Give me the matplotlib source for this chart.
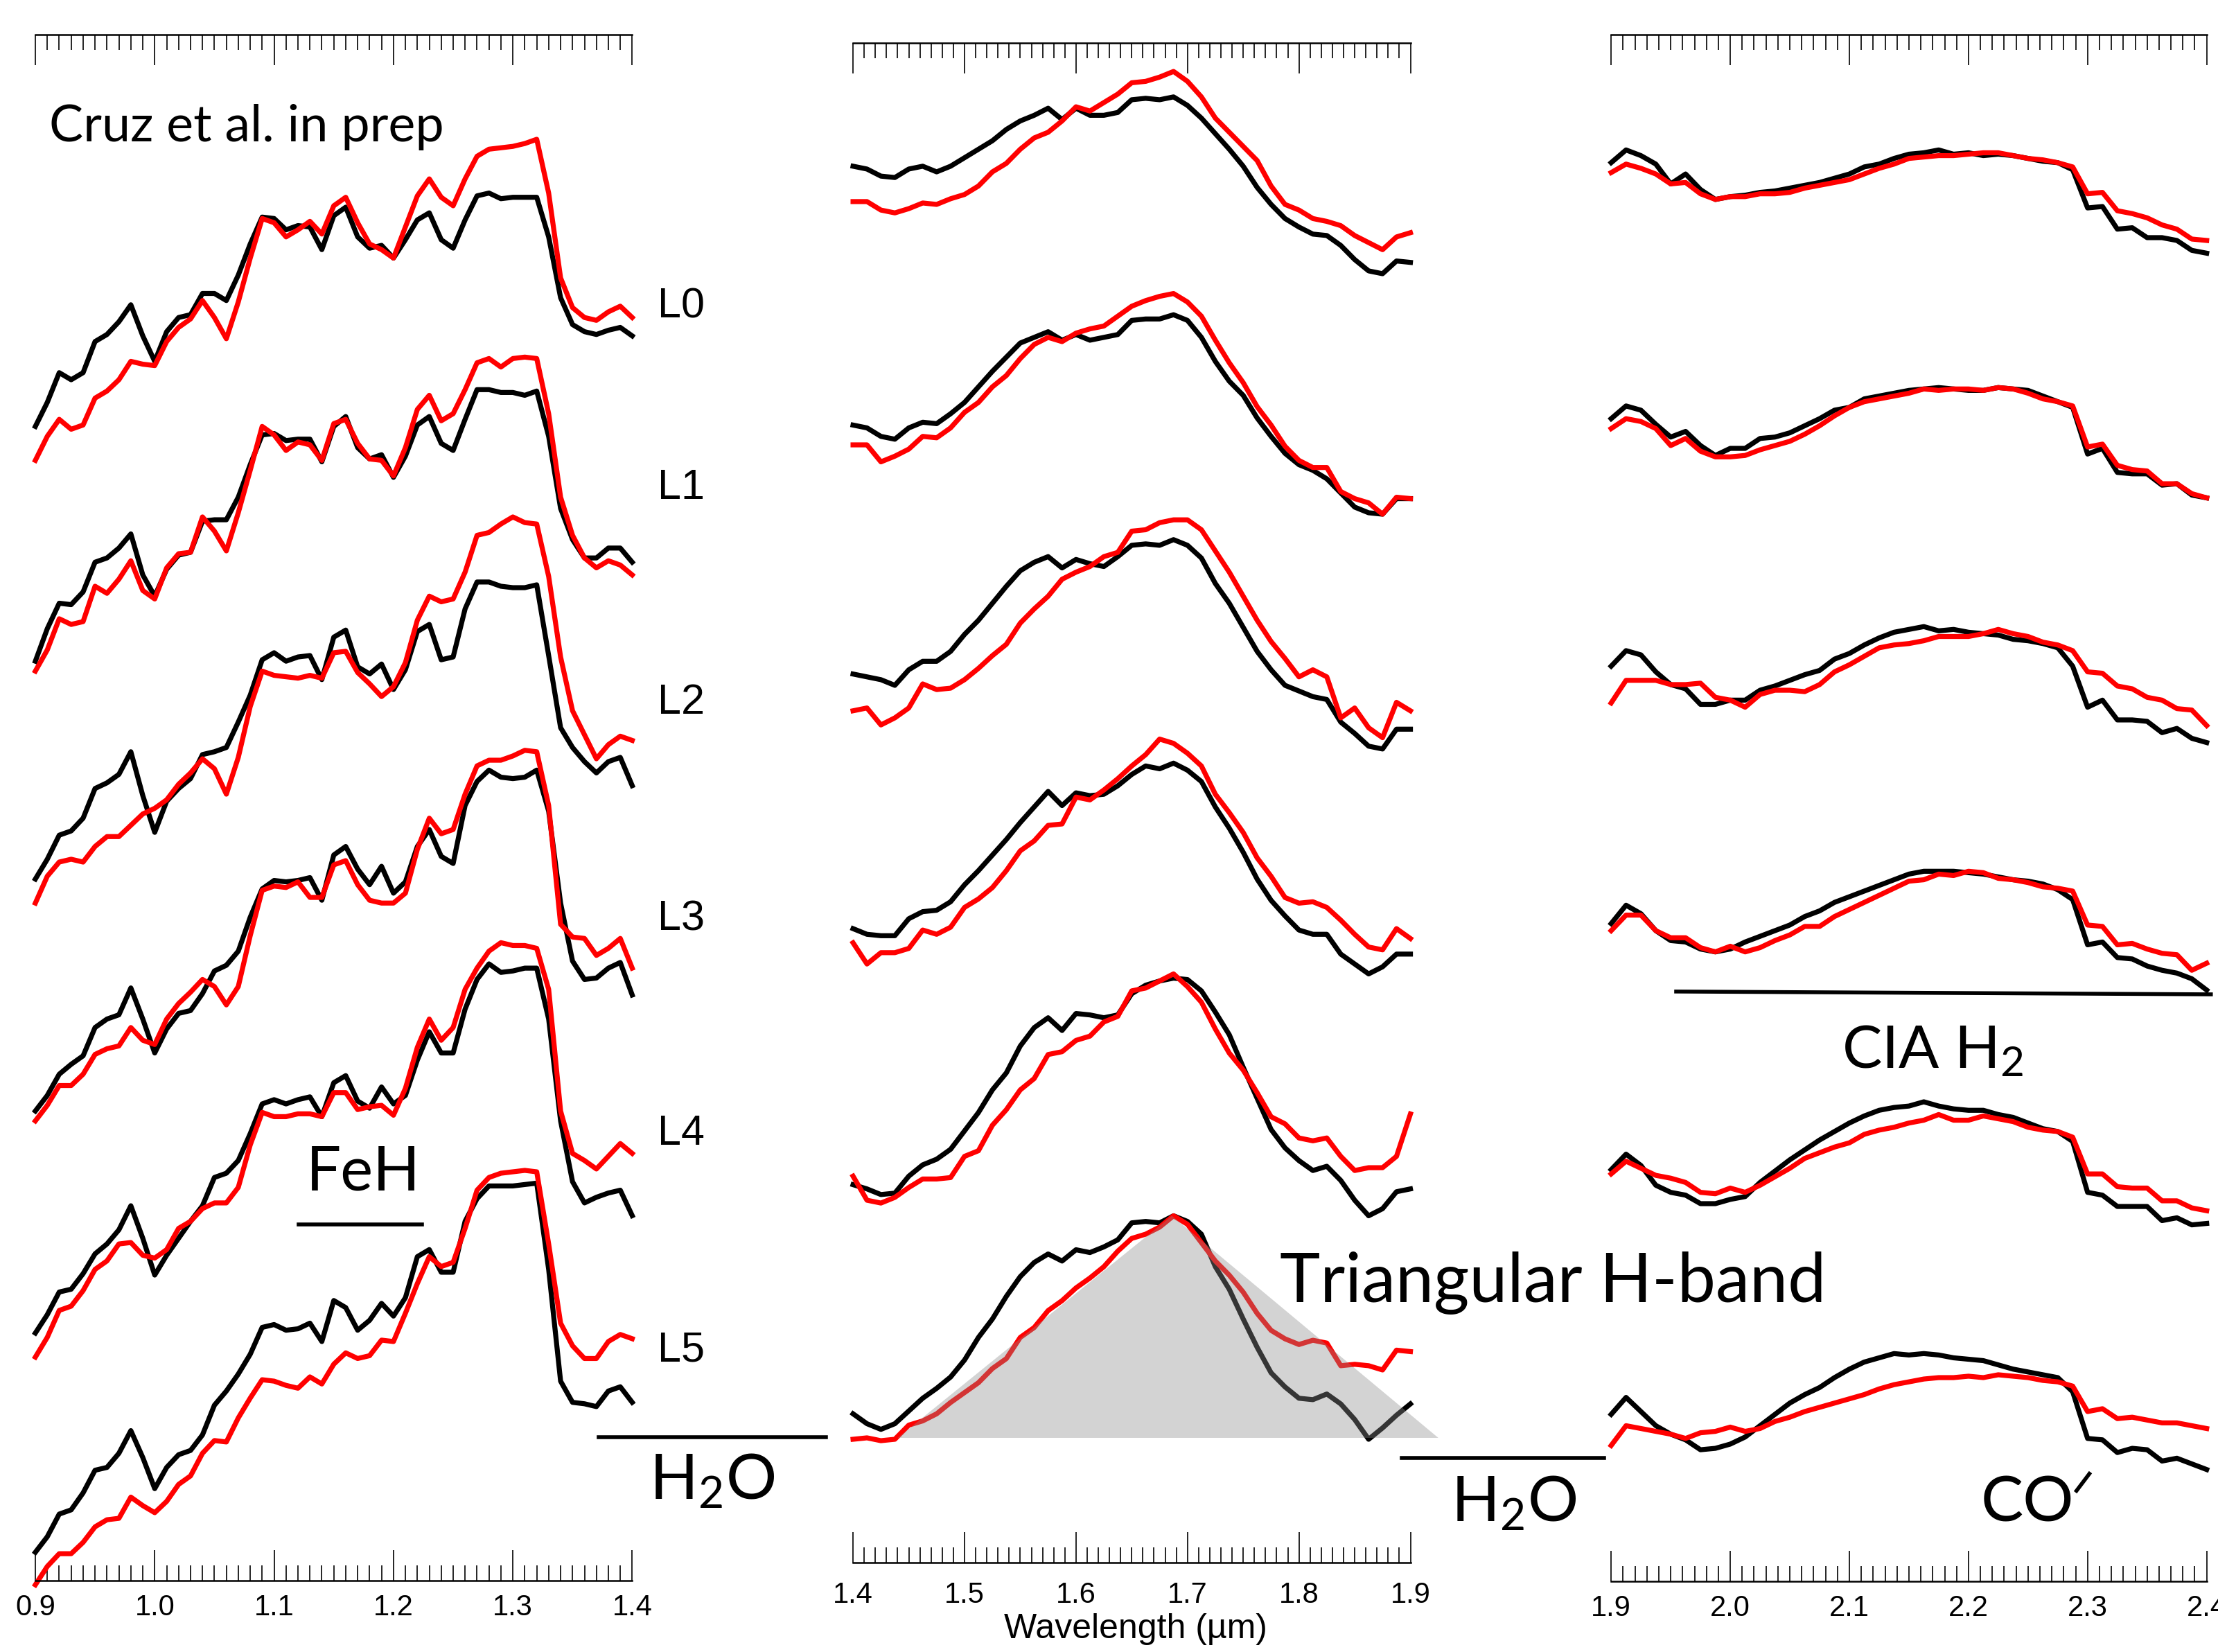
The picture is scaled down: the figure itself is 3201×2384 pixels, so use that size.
import numpy as np
import matplotlib
matplotlib.use("Agg")
from matplotlib import pyplot as plt
from matplotlib.lines import Line2D
from matplotlib.ticker import MultipleLocator, FormatStrFormatter

plt.rcParams['font.family'] = ['Liberation Sans', 'DejaVu Sans']
plt.rcParams['mathtext.fontset'] = 'custom'
plt.rcParams['mathtext.rm'] = 'Lato'
plt.rcParams['mathtext.it'] = 'Lato:italic'

# spectral types, top to bottom
types = ['L0', 'L1', 'L2', 'L3', 'L4', 'L5']

# wavelength sampling of each band (micron)
j_range = (0.90, 1.40, 0.01)
h_range = (1.40, 1.90, 0.0125)
k_range = (1.90, 2.40, 0.0125)

# vertical offsets of each spectrum in its panel (flux units)
j_off = [7.93, 6.38, 4.78, 3.23, 1.68, 0.0]
h_off = [9.05, 7.35, 5.85, 4.15, 2.45, 0.80]
k_off = [9.33, 7.58, 5.88, 4.18, 2.48, 0.73]

# ---- J band (0.90 - 1.40) ----
j_black_L0 = [0.23, 0.40, 0.61, 0.56, 0.61, 0.83, 0.88, 0.97, 1.09, 0.87, 0.69, 0.90, 1.00, 1.02, 1.17, 1.17, 1.12, 1.30, 1.52, 1.71, 1.70, 1.62, 1.65, 1.64, 1.48, 1.72, 1.78, 1.57, 1.49, 1.51, 1.42, 1.55, 1.69, 1.74, 1.55, 1.49, 1.69, 1.86, 1.88, 1.84, 1.85, 1.85, 1.85, 1.57, 1.14, 0.95, 0.90, 0.88, 0.91, 0.93, 0.87]
j_red_L0 = [-0.01, 0.16, 0.28, 0.21, 0.24, 0.43, 0.48, 0.56, 0.69, 0.67, 0.66, 0.83, 0.93, 0.99, 1.12, 1.00, 0.85, 1.11, 1.42, 1.70, 1.67, 1.57, 1.62, 1.68, 1.59, 1.79, 1.85, 1.67, 1.52, 1.48, 1.42, 1.64, 1.86, 1.98, 1.85, 1.79, 1.98, 2.14, 2.19, 2.20, 2.21, 2.23, 2.26, 1.88, 1.28, 1.07, 1.00, 0.98, 1.04, 1.08, 1.00]
j_black_L1 = [0.12, 0.35, 0.53, 0.52, 0.61, 0.82, 0.85, 0.92, 1.02, 0.73, 0.58, 0.77, 0.87, 0.89, 1.11, 1.12, 1.12, 1.28, 1.51, 1.72, 1.73, 1.68, 1.69, 1.69, 1.53, 1.78, 1.85, 1.63, 1.55, 1.58, 1.42, 1.57, 1.79, 1.85, 1.66, 1.61, 1.83, 2.04, 2.04, 2.02, 2.02, 2.00, 2.03, 1.71, 1.20, 0.98, 0.85, 0.85, 0.92, 0.92, 0.82]
j_red_L1 = [0.05, 0.20, 0.42, 0.38, 0.40, 0.65, 0.60, 0.70, 0.83, 0.62, 0.56, 0.78, 0.88, 0.89, 1.14, 1.04, 0.90, 1.17, 1.47, 1.78, 1.72, 1.61, 1.67, 1.65, 1.54, 1.80, 1.83, 1.66, 1.55, 1.54, 1.43, 1.63, 1.90, 2.00, 1.82, 1.87, 2.04, 2.23, 2.26, 2.20, 2.26, 2.27, 2.26, 1.87, 1.28, 1.01, 0.85, 0.78, 0.83, 0.80, 0.73]
j_black_L2 = [0.18, 0.32, 0.49, 0.52, 0.61, 0.82, 0.86, 0.92, 1.08, 0.77, 0.51, 0.73, 0.82, 0.89, 1.06, 1.08, 1.11, 1.29, 1.48, 1.73, 1.78, 1.72, 1.75, 1.76, 1.59, 1.89, 1.94, 1.68, 1.63, 1.70, 1.52, 1.66, 1.93, 1.98, 1.73, 1.75, 2.09, 2.28, 2.28, 2.25, 2.24, 2.24, 2.26, 1.76, 1.25, 1.11, 1.01, 0.93, 1.01, 1.04, 0.84]
j_red_L2 = [0.01, 0.20, 0.30, 0.32, 0.30, 0.41, 0.48, 0.48, 0.56, 0.64, 0.68, 0.74, 0.85, 0.93, 1.03, 0.96, 0.78, 1.04, 1.40, 1.65, 1.62, 1.61, 1.60, 1.62, 1.60, 1.78, 1.79, 1.64, 1.56, 1.47, 1.54, 1.71, 2.01, 2.18, 2.14, 2.16, 2.35, 2.61, 2.63, 2.69, 2.74, 2.70, 2.69, 2.32, 1.75, 1.37, 1.20, 1.03, 1.13, 1.19, 1.16]
j_black_L3 = [0.09, 0.20, 0.35, 0.42, 0.48, 0.68, 0.74, 0.77, 0.96, 0.74, 0.50, 0.67, 0.78, 0.80, 0.92, 1.08, 1.12, 1.22, 1.46, 1.66, 1.72, 1.71, 1.72, 1.74, 1.58, 1.90, 1.96, 1.80, 1.69, 1.82, 1.63, 1.71, 1.96, 2.08, 1.89, 1.84, 2.25, 2.42, 2.50, 2.45, 2.44, 2.45, 2.50, 2.21, 1.56, 1.15, 1.02, 1.03, 1.10, 1.14, 0.91]
j_red_L3 = [0.02, 0.13, 0.27, 0.27, 0.35, 0.49, 0.53, 0.55, 0.68, 0.59, 0.56, 0.74, 0.85, 0.93, 1.02, 0.97, 0.84, 0.97, 1.33, 1.65, 1.68, 1.67, 1.71, 1.60, 1.60, 1.83, 1.86, 1.69, 1.58, 1.56, 1.56, 1.63, 1.94, 2.16, 2.05, 2.08, 2.33, 2.53, 2.57, 2.57, 2.60, 2.64, 2.63, 2.25, 1.41, 1.32, 1.31, 1.19, 1.24, 1.31, 1.10]
j_black_L4 = [0.07, 0.20, 0.36, 0.38, 0.49, 0.63, 0.70, 0.80, 0.97, 0.74, 0.48, 0.62, 0.74, 0.86, 0.97, 1.17, 1.20, 1.29, 1.48, 1.69, 1.72, 1.69, 1.72, 1.74, 1.60, 1.84, 1.89, 1.71, 1.66, 1.81, 1.69, 1.75, 2.00, 2.20, 2.05, 2.05, 2.36, 2.57, 2.68, 2.62, 2.63, 2.65, 2.65, 2.29, 1.57, 1.14, 0.99, 1.03, 1.06, 1.08, 0.90]
j_red_L4 = [-0.10, 0.04, 0.23, 0.26, 0.37, 0.52, 0.58, 0.70, 0.71, 0.62, 0.60, 0.66, 0.81, 0.86, 0.95, 0.99, 0.99, 1.10, 1.40, 1.63, 1.60, 1.60, 1.62, 1.62, 1.60, 1.77, 1.77, 1.65, 1.67, 1.68, 1.61, 1.80, 2.09, 2.29, 2.14, 2.23, 2.50, 2.65, 2.77, 2.83, 2.81, 2.81, 2.79, 2.50, 1.64, 1.34, 1.29, 1.23, 1.32, 1.41, 1.34]
j_black_L5 = [0.20, 0.31, 0.47, 0.50, 0.62, 0.78, 0.80, 0.90, 1.06, 0.87, 0.65, 0.80, 0.89, 0.92, 1.03, 1.24, 1.34, 1.46, 1.60, 1.79, 1.81, 1.77, 1.78, 1.82, 1.69, 1.98, 1.93, 1.77, 1.84, 1.96, 1.87, 2.00, 2.29, 2.34, 2.18, 2.18, 2.54, 2.70, 2.79, 2.79, 2.79, 2.80, 2.81, 2.20, 1.41, 1.26, 1.25, 1.23, 1.34, 1.37, 1.26]
j_red_L5 = [-0.03, 0.10, 0.19, 0.19, 0.27, 0.38, 0.43, 0.44, 0.59, 0.53, 0.48, 0.56, 0.68, 0.74, 0.90, 0.99, 0.98, 1.15, 1.29, 1.42, 1.41, 1.38, 1.36, 1.44, 1.39, 1.53, 1.61, 1.57, 1.59, 1.70, 1.69, 1.89, 2.10, 2.29, 2.22, 2.25, 2.49, 2.76, 2.85, 2.88, 2.89, 2.90, 2.89, 2.38, 1.82, 1.66, 1.57, 1.57, 1.69, 1.74, 1.71]

# ---- H band (1.40 - 1.90) ----
h_black_L0 = [0.82, 0.80, 0.75, 0.74, 0.80, 0.82, 0.78, 0.82, 0.88, 0.94, 1.00, 1.08, 1.14, 1.18, 1.23, 1.15, 1.23, 1.18, 1.18, 1.20, 1.29, 1.30, 1.29, 1.31, 1.25, 1.16, 1.05, 0.94, 0.82, 0.67, 0.55, 0.45, 0.39, 0.34, 0.33, 0.26, 0.16, 0.08, 0.06, 0.15, 0.14]
h_red_L0 = [0.57, 0.57, 0.51, 0.49, 0.52, 0.56, 0.55, 0.59, 0.62, 0.68, 0.78, 0.84, 0.94, 1.02, 1.06, 1.14, 1.24, 1.21, 1.27, 1.33, 1.41, 1.42, 1.45, 1.49, 1.42, 1.31, 1.16, 1.06, 0.96, 0.86, 0.68, 0.55, 0.51, 0.45, 0.43, 0.40, 0.33, 0.28, 0.23, 0.32, 0.35]
h_black_L1 = [0.69, 0.67, 0.61, 0.59, 0.67, 0.71, 0.70, 0.77, 0.85, 0.96, 1.07, 1.17, 1.27, 1.31, 1.35, 1.29, 1.33, 1.29, 1.31, 1.33, 1.43, 1.44, 1.44, 1.47, 1.43, 1.31, 1.14, 1.00, 0.90, 0.74, 0.61, 0.49, 0.41, 0.37, 0.31, 0.21, 0.11, 0.07, 0.06, 0.17, 0.17]
h_red_L1 = [0.55, 0.55, 0.43, 0.47, 0.52, 0.61, 0.60, 0.67, 0.78, 0.85, 0.96, 1.04, 1.16, 1.26, 1.31, 1.28, 1.34, 1.37, 1.39, 1.46, 1.53, 1.57, 1.60, 1.62, 1.56, 1.46, 1.29, 1.13, 0.99, 0.82, 0.69, 0.54, 0.44, 0.39, 0.39, 0.22, 0.17, 0.14, 0.06, 0.18, 0.17]
h_black_L2 = [0.43, 0.41, 0.39, 0.35, 0.46, 0.52, 0.52, 0.59, 0.71, 0.81, 0.93, 1.05, 1.16, 1.22, 1.26, 1.18, 1.24, 1.21, 1.19, 1.26, 1.34, 1.35, 1.34, 1.38, 1.34, 1.25, 1.07, 0.93, 0.76, 0.59, 0.46, 0.35, 0.31, 0.27, 0.25, 0.09, 0.01, -0.08, -0.10, 0.04, 0.04]
h_red_L2 = [0.17, 0.19, 0.07, 0.12, 0.19, 0.36, 0.32, 0.33, 0.39, 0.47, 0.56, 0.64, 0.79, 0.89, 0.98, 1.10, 1.15, 1.19, 1.26, 1.29, 1.44, 1.45, 1.50, 1.52, 1.52, 1.45, 1.30, 1.15, 0.98, 0.81, 0.66, 0.54, 0.41, 0.46, 0.41, 0.12, 0.19, 0.05, -0.02, 0.23, 0.17]
h_black_L3 = [0.33, 0.29, 0.28, 0.28, 0.40, 0.45, 0.46, 0.52, 0.64, 0.74, 0.85, 0.96, 1.08, 1.19, 1.30, 1.20, 1.29, 1.27, 1.28, 1.34, 1.42, 1.48, 1.46, 1.50, 1.45, 1.37, 1.19, 1.04, 0.87, 0.68, 0.53, 0.42, 0.32, 0.29, 0.29, 0.15, 0.08, 0.01, 0.06, 0.15, 0.15]
h_red_L3 = [0.23, 0.08, 0.16, 0.16, 0.19, 0.32, 0.29, 0.34, 0.48, 0.54, 0.62, 0.74, 0.88, 0.95, 1.06, 1.07, 1.26, 1.24, 1.31, 1.39, 1.48, 1.56, 1.67, 1.64, 1.57, 1.48, 1.28, 1.15, 1.01, 0.83, 0.70, 0.55, 0.51, 0.52, 0.48, 0.39, 0.29, 0.20, 0.18, 0.33, 0.26]
h_black_L4 = [0.22, 0.19, 0.15, 0.16, 0.28, 0.36, 0.40, 0.47, 0.60, 0.73, 0.89, 1.01, 1.20, 1.33, 1.40, 1.31, 1.43, 1.42, 1.40, 1.42, 1.57, 1.63, 1.66, 1.68, 1.67, 1.59, 1.44, 1.28, 1.05, 0.83, 0.61, 0.48, 0.39, 0.32, 0.35, 0.25, 0.11, 0.00, 0.05, 0.17, 0.19]
h_red_L4 = [0.28, 0.11, 0.09, 0.13, 0.20, 0.26, 0.26, 0.27, 0.42, 0.46, 0.64, 0.75, 0.89, 0.97, 1.14, 1.16, 1.24, 1.27, 1.37, 1.41, 1.59, 1.61, 1.66, 1.71, 1.62, 1.51, 1.32, 1.15, 1.03, 0.87, 0.70, 0.65, 0.55, 0.53, 0.55, 0.42, 0.32, 0.34, 0.34, 0.42, 0.72]
h_black_L5 = [0.25, 0.18, 0.14, 0.18, 0.27, 0.36, 0.43, 0.51, 0.63, 0.79, 0.92, 1.08, 1.22, 1.32, 1.38, 1.33, 1.41, 1.39, 1.43, 1.48, 1.60, 1.61, 1.60, 1.65, 1.61, 1.52, 1.29, 1.13, 0.92, 0.72, 0.54, 0.44, 0.36, 0.35, 0.39, 0.32, 0.21, 0.07, 0.15, 0.24, 0.32]
h_red_L5 = [0.07, 0.08, 0.06, 0.07, 0.17, 0.20, 0.25, 0.33, 0.40, 0.47, 0.57, 0.64, 0.79, 0.86, 0.98, 1.05, 1.14, 1.21, 1.29, 1.40, 1.49, 1.52, 1.57, 1.65, 1.59, 1.46, 1.33, 1.23, 1.11, 0.96, 0.84, 0.78, 0.74, 0.77, 0.75, 0.59, 0.60, 0.59, 0.56, 0.70, 0.69]

# ---- K band (1.90 - 2.40) ----
k_black_L0 = [0.70, 0.79, 0.75, 0.69, 0.55, 0.62, 0.51, 0.44, 0.46, 0.47, 0.49, 0.50, 0.52, 0.54, 0.56, 0.59, 0.62, 0.67, 0.69, 0.73, 0.76, 0.77, 0.79, 0.76, 0.77, 0.75, 0.76, 0.75, 0.73, 0.71, 0.70, 0.65, 0.38, 0.39, 0.23, 0.24, 0.17, 0.17, 0.15, 0.08, 0.06]
k_red_L0 = [0.63, 0.69, 0.66, 0.62, 0.55, 0.56, 0.48, 0.44, 0.46, 0.46, 0.48, 0.48, 0.49, 0.52, 0.54, 0.56, 0.58, 0.62, 0.66, 0.69, 0.73, 0.74, 0.75, 0.75, 0.76, 0.77, 0.77, 0.75, 0.73, 0.72, 0.70, 0.67, 0.48, 0.49, 0.36, 0.34, 0.31, 0.26, 0.23, 0.16, 0.15]
k_black_L1 = [0.64, 0.73, 0.70, 0.60, 0.51, 0.55, 0.45, 0.38, 0.43, 0.43, 0.50, 0.51, 0.54, 0.59, 0.64, 0.70, 0.72, 0.78, 0.80, 0.82, 0.84, 0.85, 0.86, 0.85, 0.84, 0.84, 0.86, 0.85, 0.84, 0.80, 0.76, 0.72, 0.39, 0.43, 0.26, 0.25, 0.25, 0.17, 0.18, 0.10, 0.08]
k_red_L1 = [0.57, 0.64, 0.62, 0.57, 0.45, 0.50, 0.41, 0.37, 0.37, 0.38, 0.42, 0.45, 0.48, 0.53, 0.59, 0.66, 0.72, 0.76, 0.78, 0.80, 0.82, 0.85, 0.84, 0.85, 0.85, 0.84, 0.86, 0.85, 0.82, 0.78, 0.76, 0.73, 0.44, 0.46, 0.31, 0.28, 0.27, 0.18, 0.18, 0.11, 0.08]
k_black_L2 = [0.59, 0.70, 0.67, 0.55, 0.46, 0.43, 0.32, 0.32, 0.35, 0.35, 0.42, 0.45, 0.49, 0.53, 0.56, 0.64, 0.68, 0.74, 0.79, 0.83, 0.85, 0.87, 0.84, 0.85, 0.83, 0.82, 0.81, 0.78, 0.77, 0.75, 0.72, 0.59, 0.30, 0.35, 0.21, 0.21, 0.20, 0.12, 0.15, 0.08, 0.05]
k_red_L2 = [0.33, 0.49, 0.49, 0.49, 0.46, 0.46, 0.47, 0.37, 0.35, 0.30, 0.39, 0.42, 0.42, 0.41, 0.46, 0.55, 0.60, 0.66, 0.72, 0.74, 0.75, 0.77, 0.80, 0.80, 0.80, 0.82, 0.85, 0.82, 0.80, 0.76, 0.74, 0.70, 0.55, 0.54, 0.45, 0.43, 0.37, 0.35, 0.29, 0.28, 0.17]
k_black_L3 = [0.47, 0.60, 0.54, 0.42, 0.35, 0.34, 0.29, 0.27, 0.29, 0.34, 0.38, 0.42, 0.46, 0.52, 0.56, 0.62, 0.66, 0.70, 0.74, 0.78, 0.82, 0.84, 0.84, 0.84, 0.83, 0.82, 0.80, 0.78, 0.77, 0.75, 0.71, 0.64, 0.32, 0.34, 0.23, 0.22, 0.17, 0.14, 0.12, 0.08, 0.00]
k_red_L3 = [0.42, 0.53, 0.53, 0.42, 0.37, 0.37, 0.30, 0.27, 0.31, 0.27, 0.30, 0.35, 0.39, 0.45, 0.45, 0.52, 0.57, 0.62, 0.67, 0.72, 0.77, 0.78, 0.82, 0.81, 0.84, 0.83, 0.79, 0.78, 0.76, 0.73, 0.72, 0.70, 0.46, 0.45, 0.32, 0.33, 0.29, 0.26, 0.25, 0.14, 0.19]
k_black_L4 = [0.43, 0.54, 0.46, 0.32, 0.27, 0.25, 0.19, 0.19, 0.22, 0.24, 0.34, 0.42, 0.50, 0.57, 0.64, 0.70, 0.76, 0.81, 0.85, 0.87, 0.88, 0.91, 0.88, 0.86, 0.85, 0.85, 0.82, 0.80, 0.76, 0.72, 0.70, 0.63, 0.27, 0.25, 0.17, 0.17, 0.17, 0.07, 0.09, 0.04, 0.05]
k_red_L4 = [0.40, 0.49, 0.44, 0.39, 0.37, 0.34, 0.27, 0.26, 0.30, 0.27, 0.32, 0.38, 0.44, 0.51, 0.55, 0.59, 0.62, 0.68, 0.71, 0.73, 0.76, 0.78, 0.82, 0.78, 0.78, 0.81, 0.79, 0.77, 0.73, 0.71, 0.70, 0.66, 0.40, 0.40, 0.31, 0.30, 0.30, 0.21, 0.21, 0.16, 0.14]
k_black_L5 = [0.45, 0.57, 0.47, 0.37, 0.31, 0.27, 0.20, 0.21, 0.24, 0.29, 0.37, 0.45, 0.53, 0.59, 0.64, 0.71, 0.77, 0.82, 0.85, 0.88, 0.87, 0.88, 0.87, 0.85, 0.84, 0.83, 0.80, 0.77, 0.75, 0.73, 0.71, 0.61, 0.28, 0.27, 0.18, 0.21, 0.20, 0.12, 0.14, 0.10, 0.06]
k_red_L5 = [0.23, 0.37, 0.35, 0.33, 0.31, 0.28, 0.32, 0.33, 0.36, 0.33, 0.35, 0.40, 0.43, 0.47, 0.50, 0.53, 0.56, 0.59, 0.63, 0.66, 0.68, 0.70, 0.71, 0.71, 0.72, 0.71, 0.73, 0.72, 0.71, 0.69, 0.68, 0.65, 0.47, 0.49, 0.42, 0.43, 0.41, 0.39, 0.39, 0.37, 0.35]

# triangular H-band template drawn under the L5 spectra
tri_wave = [1.44, 1.686, 1.925]
tri_flux = [0.08, 1.65, 0.08]

j_black = [j_black_L0, j_black_L1, j_black_L2, j_black_L3, j_black_L4, j_black_L5]
j_red = [j_red_L0, j_red_L1, j_red_L2, j_red_L3, j_red_L4, j_red_L5]
h_black = [h_black_L0, h_black_L1, h_black_L2, h_black_L3, h_black_L4, h_black_L5]
h_red = [h_red_L0, h_red_L1, h_red_L2, h_red_L3, h_red_L4, h_red_L5]
k_black = [k_black_L0, k_black_L1, k_black_L2, k_black_L3, k_black_L4, k_black_L5]
k_red = [k_red_L0, k_red_L1, k_red_L2, k_red_L3, k_red_L4, k_red_L5]


def band_grid(rng):
    lo, hi, step = rng
    n = int(round((hi - lo) / step)) + 1
    return lo + step * np.arange(n)


def setup_axis(ax, rng, ytop, labelpad):
    ax.set_xlim(rng[0], rng[1])
    ax.set_ylim(0, ytop)
    for side in ['left', 'right']:
        ax.spines[side].set_visible(False)
    for side in ['top', 'bottom']:
        ax.spines[side].set_linewidth(0.9)
    ax.set_yticks([])
    ax.xaxis.set_major_locator(MultipleLocator(0.1))
    ax.xaxis.set_minor_locator(MultipleLocator(0.01))
    ax.xaxis.set_major_formatter(FormatStrFormatter('%.1f'))
    ax.tick_params(axis='x', which='both', direction='in', top=True, bottom=True,
                   labeltop=False, labelbottom=True, width=0.6, labelsize=15,
                   pad=labelpad)
    ax.tick_params(axis='x', which='major', length=15.8)
    ax.tick_params(axis='x', which='minor', length=7.9)
    ax.patch.set_alpha(0)


def plot_band(ax, rng, black, red, offsets):
    wave = band_grid(rng)
    for i in range(len(types)):
        ax.plot(wave, np.array(black[i]) + offsets[i], color='black', lw=2.6,
                solid_joinstyle='round', clip_on=False, zorder=2)
        ax.plot(wave, np.array(red[i]) + offsets[i], color='#ff0000', lw=2.6,
                solid_joinstyle='round', clip_on=False, zorder=2)


fig = plt.figure(figsize=(3201 / 200, 2384 / 200), dpi=200)

ax_j = fig.add_axes([0.01594, 0.04324, 0.2691, 0.9358])
ax_h = fig.add_axes([0.3846, 0.05428, 0.2513, 0.9196])
ax_k = fig.add_axes([0.7264, 0.04281, 0.2685, 0.9362])

setup_axis(ax_j, j_range, 10.93, 7)
setup_axis(ax_h, h_range, 10.74, 10)
setup_axis(ax_k, k_range, 10.935, 7)

plot_band(ax_j, j_range, j_black, j_red, j_off)
plot_band(ax_h, h_range, h_black, h_red, h_off)
plot_band(ax_k, k_range, k_black, k_red, k_off)

ax_h.fill(tri_wave, np.array(tri_flux) + h_off[5], color='0.55', alpha=0.38,
          lw=0, zorder=3, clip_on=False)

fig.text(0.5121, 0.0137, 'Wavelength (\u00b5m)', fontsize=18, ha='center', va='center')

# spectral type labels
label_y = [0.8142, 0.7046, 0.5745, 0.4435, 0.3134, 0.1824]
for t, yy in zip(types, label_y):
    fig.text(0.2966, yy, t, fontsize=22, ha='left', va='center')

ann = dict(family=['Lato', 'DejaVu Sans'], color='black')
fig.text(0.0223, 0.9229, 'Cruz et al. in prep', fontsize=26.5, ha='left', va='center', **ann)
fig.text(0.1639, 0.2902, 'FeH', fontsize=32, ha='center', va='center', **ann)
fig.text(0.3211, 0.1036, 'H$_2$O', fontsize=33, ha='center', va='center', **ann)
fig.text(0.6824, 0.0899, 'H$_2$O', fontsize=33, ha='center', va='center', **ann)
fig.text(0.7003, 0.2235, 'Triangular H-band', fontsize=35.5, ha='center', va='center', **ann)
fig.text(0.8712, 0.3639, 'CIA H$_2$', fontsize=31, ha='center', va='center', **ann)
fig.text(0.9139, 0.0899, 'CO', fontsize=33, ha='center', va='center', **ann)

# feature bars
bars = [([0.1346, 0.1901], [0.2586, 0.2586]),
        ([0.2698, 0.3724], [0.1301, 0.1301]),
        ([0.6320, 0.7232], [0.1173, 0.1173]),
        ([0.7557, 0.9968], [0.3998, 0.3981]),
        ([0.9362, 0.9420], [0.0976, 0.1079])]
for xs, ys in bars:
    fig.add_artist(Line2D(xs, ys, transform=fig.transFigure, color='black', lw=2.0))

fig.savefig('out.png', dpi=200)
